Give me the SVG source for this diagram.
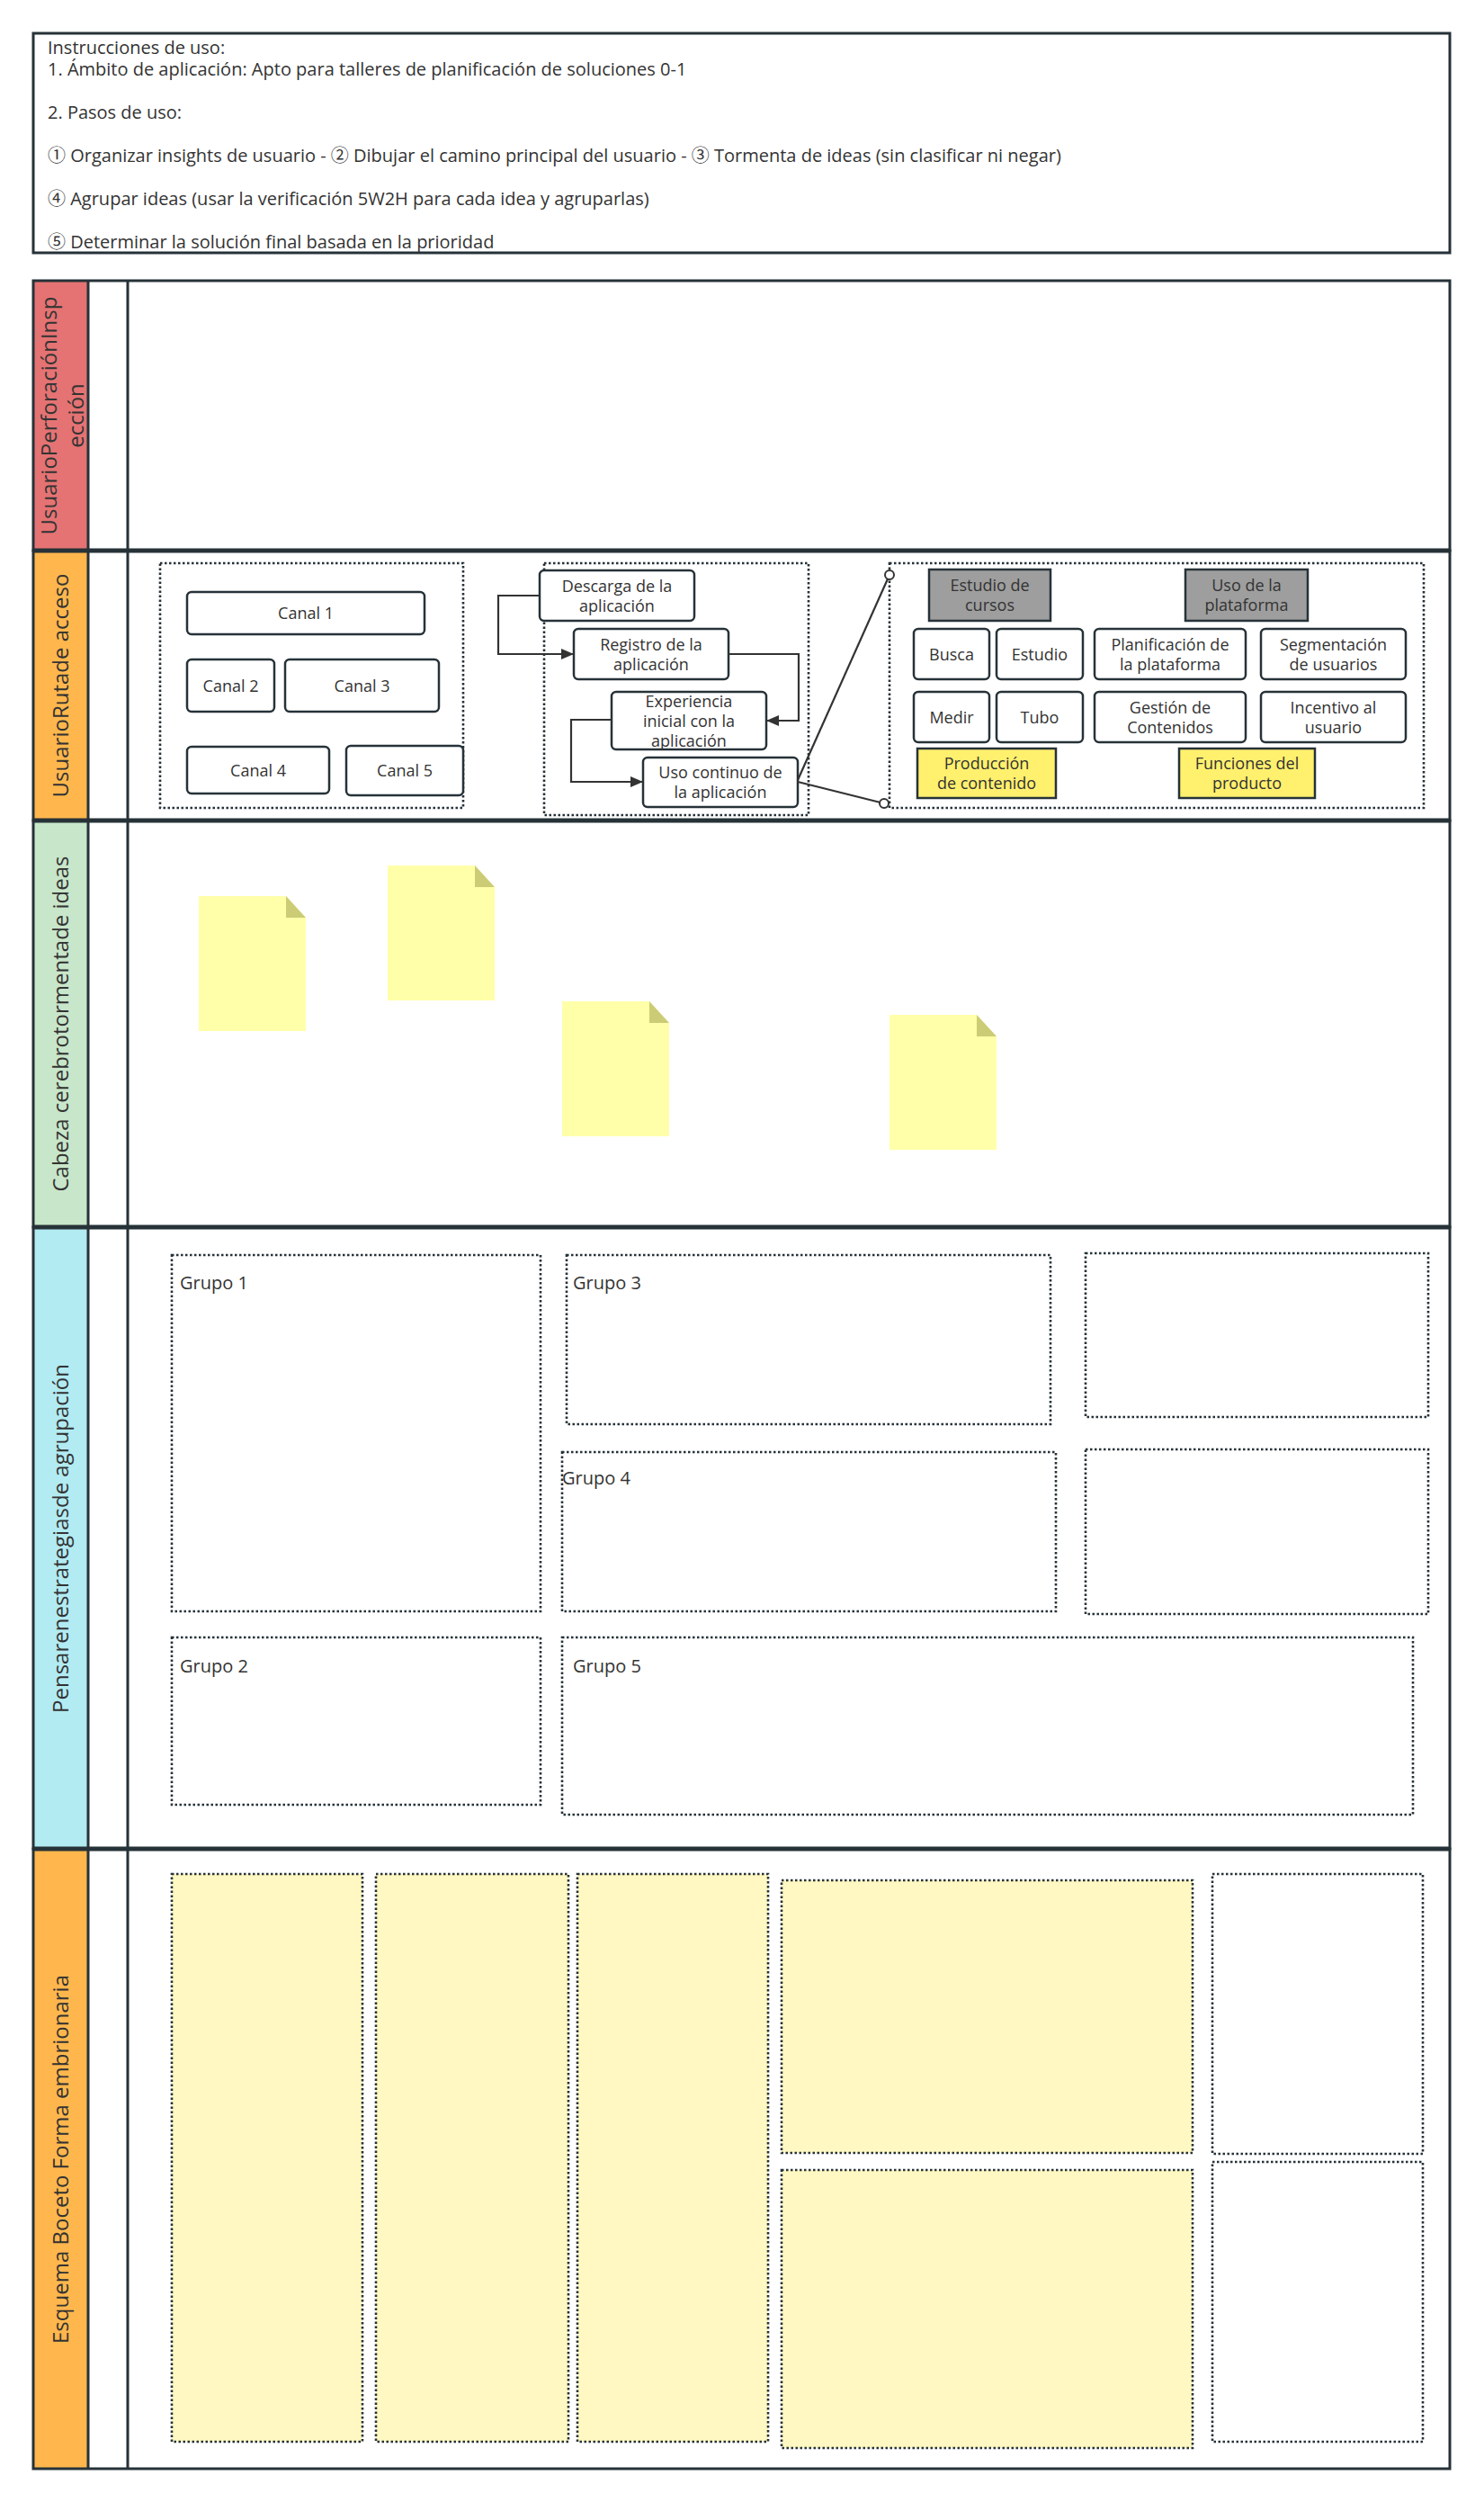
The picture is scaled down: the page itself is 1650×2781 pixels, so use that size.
<svg xmlns="http://www.w3.org/2000/svg" width="1650" height="2781" viewBox="0 0 1650 2781">
<defs>
<style>
text{font-family:"Open Sans","Noto Sans","Noto Sans CJK SC",sans-serif;fill:#333;}
.ins{font-size:20px;}
.lane{font-size:24px;}
.nt{font-size:18px;text-anchor:middle;}
.gl{font-size:20px;}
.lanebox{fill:none;stroke:#263238;stroke-width:3;}
.sep{stroke:#263238;stroke-width:5;}
.box{fill:#fff;stroke:#263238;stroke-width:2.5;}
.gray{fill:#9e9e9e;stroke:#263238;stroke-width:2.5;}
.yel{fill:#fff06e;stroke:#263238;stroke-width:2.5;}
.dot{fill:none;stroke:#263238;stroke-width:2.6;stroke-dasharray:2.5 2.5;}
.doty{fill:#fff8c2;stroke:#263238;stroke-width:2.6;stroke-dasharray:2.5 2.5;}
.note{fill:#ffffaa;}
.fold{fill:#cccc77;}
.conn{fill:none;stroke:#333;stroke-width:2.2;}
</style>
<marker id="arr" markerWidth="14" markerHeight="12" refX="14" refY="6" orient="auto" markerUnits="userSpaceOnUse">
<path d="M0,0 L14,6 L0,12 Z" fill="#333"/>
</marker>
</defs>
<rect width="1650" height="2781" fill="#fff"/>

<g id="instructions">
<rect x="37" y="37" width="1575" height="244" fill="#fff" stroke="#263238" stroke-width="3"/>
<text class="ins" x="53" y="60">Instrucciones de uso:</text>
<text class="ins" x="53" y="84">1. Ámbito de aplicación: Apto para talleres de planificación de soluciones 0-1</text>
<text class="ins" x="53" y="132">2. Pasos de uso:</text>
<text class="ins" x="53" y="180">① Organizar insights de usuario - ② Dibujar el camino principal del usuario - ③ Tormenta de ideas (sin clasificar ni negar)</text>
<text class="ins" x="53" y="228">④ Agrupar ideas (usar la verificación 5W2H para cada idea y agruparlas)</text>
<text class="ins" x="53" y="276">⑤ Determinar la solución final basada en la prioridad</text>
</g>

<g id="lane1">
<rect x="37" y="312" width="61" height="300" fill="#e57373"/>
<rect class="lanebox" x="37" y="312" width="1575" height="300"/>
<line x1="98" y1="312" x2="98" y2="612" stroke="#263238" stroke-width="3"/>
<text class="lane" text-anchor="middle" transform="translate(63,462) rotate(-90)">UsuarioPerforaciónInsp<tspan x="0" dy="30">ección</tspan></text>
</g>
<g id="lane2">
<rect x="37" y="612" width="61" height="300" fill="#ffb74d"/>
<rect class="lanebox" x="37" y="612" width="1575" height="300"/>
<line x1="98" y1="612" x2="98" y2="912" stroke="#263238" stroke-width="3"/>
<text class="lane" text-anchor="middle" transform="translate(76,762) rotate(-90)">UsuarioRutade acceso</text>
</g>
<g id="lane3">
<rect x="37" y="912" width="61" height="452" fill="#c8e6c9"/>
<rect class="lanebox" x="37" y="912" width="1575" height="452"/>
<line x1="98" y1="912" x2="98" y2="1364" stroke="#263238" stroke-width="3"/>
<text class="lane" text-anchor="middle" transform="translate(76,1138) rotate(-90)">Cabeza cerebrotormentade ideas</text>
</g>
<g id="lane4">
<rect x="37" y="1364" width="61" height="691" fill="#b2ebf2"/>
<rect class="lanebox" x="37" y="1364" width="1575" height="691"/>
<line x1="98" y1="1364" x2="98" y2="2055" stroke="#263238" stroke-width="3"/>
<text class="lane" text-anchor="middle" transform="translate(76,1710) rotate(-90)">Pensarenestrategiasde agrupación</text>
</g>
<g id="lane5">
<rect x="37" y="2055" width="61" height="689" fill="#ffb74d"/>
<rect class="lanebox" x="37" y="2055" width="1575" height="689"/>
<line x1="98" y1="2055" x2="98" y2="2744" stroke="#263238" stroke-width="3"/>
<text class="lane" text-anchor="middle" transform="translate(76,2400) rotate(-90)">Esquema Boceto Forma embrionaria</text>
</g>
<g id="separators">
<line class="sep" x1="37" y1="612" x2="1612" y2="612"/>
<line class="sep" x1="37" y1="912" x2="1612" y2="912"/>
<line class="sep" x1="37" y1="1364" x2="1612" y2="1364"/>
<line class="sep" x1="37" y1="2055" x2="1612" y2="2055"/>
<line x1="142" y1="312" x2="142" y2="2744" stroke="#263238" stroke-width="3"/>
</g>

<g id="containers">
<rect class="dot" x="178" y="626" width="337" height="272"/>
<rect class="dot" x="605" y="626" width="294" height="280"/>
<rect class="dot" x="989" y="626" width="594" height="272"/>
</g>

<g id="canal1"><rect class="box" x="208" y="658" width="264" height="47" rx="5"/><text class="nt" x="340" y="688">Canal 1</text></g>
<g id="canal2"><rect class="box" x="208" y="733" width="97" height="58" rx="5"/><text class="nt" x="256.5" y="768.5">Canal 2</text></g>
<g id="canal3"><rect class="box" x="317" y="733" width="171" height="58" rx="5"/><text class="nt" x="402.5" y="768.5">Canal 3</text></g>
<g id="canal4"><rect class="box" x="208" y="830" width="158" height="52" rx="5"/><text class="nt" x="287" y="862.5">Canal 4</text></g>
<g id="canal5"><rect class="box" x="385" y="829" width="130" height="55" rx="5"/><text class="nt" x="450" y="862.5">Canal 5</text></g>

<g id="descarga"><rect class="box" x="600" y="634" width="172" height="56" rx="5"/><text class="nt" x="686" y="657.5">Descarga de la<tspan x="686" dy="22">aplicación</tspan></text></g>
<g id="registro"><rect class="box" x="638" y="699" width="172" height="56" rx="5"/><text class="nt" x="724" y="722.5">Registro de la<tspan x="724" dy="22">aplicación</tspan></text></g>
<g id="experiencia"><rect class="box" x="680" y="769" width="172" height="64" rx="5"/><text class="nt" x="766" y="785.5">Experiencia<tspan x="766" dy="22">inicial con la</tspan><tspan x="766" dy="22">aplicación</tspan></text></g>
<g id="uso"><rect class="box" x="715" y="842" width="172" height="55" rx="5"/><text class="nt" x="801" y="865">Uso continuo de<tspan x="801" dy="22">la aplicación</tspan></text></g>

<g id="estudio-cursos"><rect class="gray" x="1033" y="633" width="135" height="57"/><text class="nt" x="1100.5" y="657">Estudio de<tspan x="1100.5" dy="22">cursos</tspan></text></g>
<g id="uso-plataforma"><rect class="gray" x="1318" y="633" width="136" height="57"/><text class="nt" x="1386" y="657">Uso de la<tspan x="1386" dy="22">plataforma</tspan></text></g>
<g id="busca"><rect class="box" x="1016" y="699" width="84" height="56" rx="5"/><text class="nt" x="1058" y="733.5">Busca</text></g>
<g id="estudio"><rect class="box" x="1108" y="699" width="96" height="56" rx="5"/><text class="nt" x="1156" y="733.5">Estudio</text></g>
<g id="planificacion"><rect class="box" x="1217" y="699" width="168" height="56" rx="5"/><text class="nt" x="1301" y="722.5">Planificación de<tspan x="1301" dy="22">la plataforma</tspan></text></g>
<g id="segmentacion"><rect class="box" x="1402" y="699" width="161" height="56" rx="5"/><text class="nt" x="1482.5" y="722.5">Segmentación<tspan x="1482.5" dy="22">de usuarios</tspan></text></g>
<g id="medir"><rect class="box" x="1016" y="769" width="84" height="56" rx="5"/><text class="nt" x="1058" y="803.5">Medir</text></g>
<g id="tubo"><rect class="box" x="1108" y="769" width="96" height="56" rx="5"/><text class="nt" x="1156" y="803.5">Tubo</text></g>
<g id="gestion"><rect class="box" x="1217" y="769" width="168" height="56" rx="5"/><text class="nt" x="1301" y="792.5">Gestión de<tspan x="1301" dy="22">Contenidos</tspan></text></g>
<g id="incentivo"><rect class="box" x="1402" y="769" width="161" height="56" rx="5"/><text class="nt" x="1482.5" y="792.5">Incentivo al<tspan x="1482.5" dy="22">usuario</tspan></text></g>
<g id="produccion"><rect class="yel" x="1020" y="832" width="154" height="55"/><text class="nt" x="1097" y="855">Producción<tspan x="1097" dy="22">de contenido</tspan></text></g>
<g id="funciones"><rect class="yel" x="1311" y="832" width="151" height="55"/><text class="nt" x="1386.5" y="855">Funciones del<tspan x="1386.5" dy="22">producto</tspan></text></g>

<g id="connectors">
<path class="conn" d="M600,662 H554 V727 H638" marker-end="url(#arr)"/>
<path class="conn" d="M810,727 H888 V801 H852" marker-end="url(#arr)"/>
<path class="conn" d="M680,800 H635 V869 H715" marker-end="url(#arr)"/>
<line class="conn" x1="887" y1="867" x2="989" y2="639"/>
<line class="conn" x1="887" y1="869" x2="983" y2="893"/>
<circle cx="989" cy="639" r="5" fill="#fff" stroke="#333" stroke-width="2"/>
<circle cx="983" cy="893" r="5" fill="#fff" stroke="#333" stroke-width="2"/>
</g>

<g id="note1"><path class="note" d="M221,996 H318 L340,1020 V1146 H221 Z"/><path class="fold" d="M318,996 V1020 H340 Z"/></g>
<g id="note2"><path class="note" d="M431,962 H528 L550,986 V1112 H431 Z"/><path class="fold" d="M528,962 V986 H550 Z"/></g>
<g id="note3"><path class="note" d="M625,1113 H722 L744,1137 V1263 H625 Z"/><path class="fold" d="M722,1113 V1137 H744 Z"/></g>
<g id="note4"><path class="note" d="M989,1128 H1086 L1108,1152 V1278 H989 Z"/><path class="fold" d="M1086,1128 V1152 H1108 Z"/></g>

<g id="grupo1"><rect class="dot" x="191" y="1395" width="410" height="396"/><text class="gl" x="200" y="1433">Grupo 1</text></g>
<g id="grupo3"><rect class="dot" x="630" y="1395" width="538" height="188"/><text class="gl" x="637" y="1433">Grupo 3</text></g>
<g id="box-tr"><rect class="dot" x="1207" y="1393" width="381" height="182"/></g>
<g id="grupo4"><rect class="dot" x="625" y="1614" width="549" height="177"/><text class="gl" x="625" y="1650">Grupo 4</text></g>
<g id="box-mr"><rect class="dot" x="1207" y="1611" width="381" height="183"/></g>
<g id="grupo2"><rect class="dot" x="191" y="1820" width="410" height="186"/><text class="gl" x="200" y="1859">Grupo 2</text></g>
<g id="grupo5"><rect class="dot" x="625" y="1820" width="946" height="197"/><text class="gl" x="637" y="1859">Grupo 5</text></g>

<g id="sketchA"><rect class="doty" x="191" y="2083" width="212" height="631"/></g>
<g id="sketchB"><rect class="doty" x="418" y="2083" width="214" height="631"/></g>
<g id="sketchC"><rect class="doty" x="642" y="2083" width="212" height="631"/></g>
<g id="sketchD"><rect class="doty" x="869" y="2090" width="457" height="303"/></g>
<g id="sketchE"><rect class="doty" x="869" y="2412" width="457" height="309"/></g>
<g id="sketchF"><rect class="dot" x="1348" y="2083" width="234" height="311"/></g>
<g id="sketchG"><rect class="dot" x="1348" y="2403" width="234" height="311"/></g>
</svg>
